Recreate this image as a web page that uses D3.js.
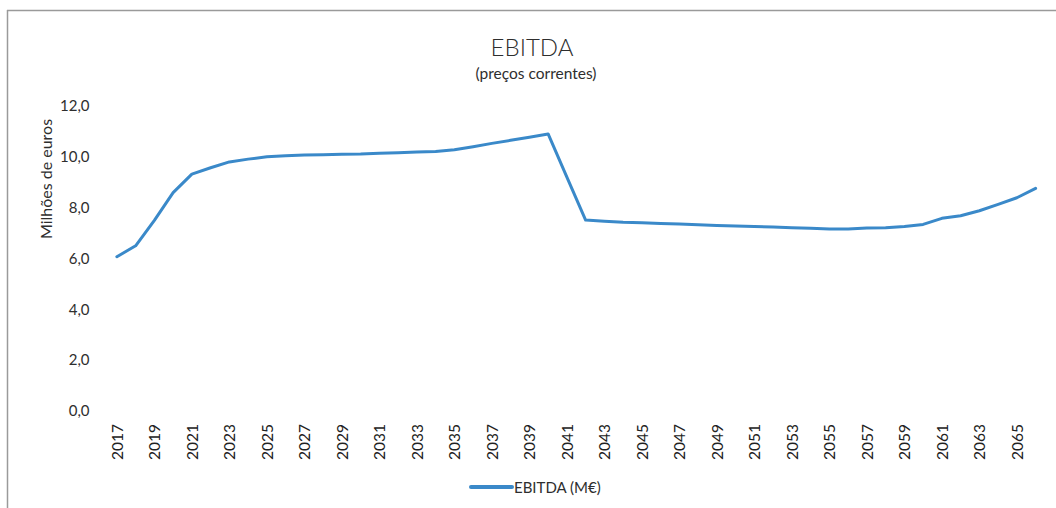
<!DOCTYPE html>
<html>
<head>
<meta charset="utf-8">
<script src="https://cdn.jsdelivr.net/npm/d3@7"></script>
<style>
  body { margin: 0; background: #fff; }
  svg { display: block; font-family: Lato, "Open Sans", sans-serif; }
</style>
</head>
<body>
<div id="chart"></div>
<script>
// EBITDA line chart (M€)
const years = d3.range(2017, 2067).map(String);
const ebitda = [
  6.07, 6.50, 7.50, 8.59, 9.32, 9.57, 9.80, 9.91, 10.00, 10.04,
  10.07, 10.08, 10.10, 10.11, 10.14, 10.16, 10.19, 10.21, 10.28, 10.40,
  10.53, 10.65, 10.77, 10.90, 9.20, 7.51, 7.47, 7.43, 7.41, 7.38,
  7.36, 7.33, 7.30, 7.28, 7.26, 7.24, 7.21, 7.19, 7.16, 7.16,
  7.20, 7.21, 7.26, 7.34, 7.58, 7.68, 7.88, 8.13, 8.39, 8.76
];
const yTicks = [0, 2, 4, 6, 8, 10, 12];
const title = 'EBITDA',
  subtitle = '(preços correntes)',
  yTitle = 'Milhões de euros',
  seriesName = 'EBITDA (M€)';

let W = 1056, H = 508,
  margin = {top: 106, right: 11, bottom: 97, left: 107.5},
  lineColor = '#3a89c9',
  textColor = '#2e2e2e';

let svg = d3.select('#chart').append('svg').attr('width', W).attr('height', H);

// frame (scan shows top and left edges only)
svg.append('line').attr('x1', 7).attr('x2', W).attr('y1', 10.5).attr('y2', 10.5)
  .style('stroke', '#9a9a9a').style('stroke-width', 1.5);
svg.append('line').attr('x1', 7.5).attr('x2', 7.5).attr('y1', 10).attr('y2', H)
  .style('stroke', '#9a9a9a').style('stroke-width', 1.5);

let scaleX = d3.scaleBand().domain(years).range([margin.left, W - margin.right]);
let scaleY = d3.scaleLinear().domain([0, 12]).range([H - margin.bottom, margin.top]);
let xPos = function(yr){ return scaleX(yr) + scaleX.bandwidth()/2; };
let fmt = function(v){ return d3.format('.1f')(v).replace('.', ','); };

// titles
svg.append('text').attr('x', 532).attr('y', 56).attr('text-anchor', 'middle')
  .style('font-size', '24px').style('font-weight', 300).style('fill', textColor).text(title);
svg.append('text').attr('x', 536).attr('y', 79).attr('text-anchor', 'middle')
  .style('font-size', '15.5px').style('fill', textColor).text(subtitle);

// y axis (no line, no ticks)
let yAxis = d3.axisLeft(scaleY).tickValues(yTicks).tickFormat(fmt).tickSize(0).tickPadding(0);
let gy = svg.append('g').attr('transform', 'translate(' + (margin.left - 18) + ',0)').call(yAxis);
gy.select('.domain').remove();
gy.selectAll('text').style('font-size', '15px').style('fill', textColor).style('font-family', 'Lato, sans-serif');

svg.append('text')
  .attr('transform', 'translate(45,179) rotate(-90)')
  .attr('text-anchor', 'middle').attr('dominant-baseline', 'central')
  .style('font-size', '16px').style('fill', textColor).text(yTitle);

// x axis labels every 2 years, rotated
let xAxis = d3.axisBottom(scaleX).tickValues(years.filter(function(d, i){ return i % 2 === 0; })).tickSize(0);
let gx = svg.append('g').attr('transform', 'translate(0,' + (H - margin.bottom) + ')').call(xAxis);
gx.select('.domain').remove();
gx.selectAll('text')
  .attr('transform', 'rotate(-90)')
  .attr('x', -13).attr('y', 0).attr('dy', null)
  .attr('text-anchor', 'end').attr('dominant-baseline', 'central')
  .style('font-size', '15.5px').style('fill', '#222').style('font-family', 'Lato, sans-serif');

// the line
let line = d3.line().x(function(d, i){ return xPos(years[i]); }).y(function(d){ return scaleY(d); });
svg.append('path').datum(ebitda).attr('d', line)
  .style('fill', 'none').style('stroke', lineColor).style('stroke-width', 3)
  .style('stroke-linejoin', 'round').style('stroke-linecap', 'round');

// legend
svg.append('line').attr('x1', 471).attr('x2', 512).attr('y1', 487).attr('y2', 487)
  .style('stroke', lineColor).style('stroke-width', 4).style('stroke-linecap', 'round');
svg.append('text').attr('x', 514).attr('y', 487).attr('dominant-baseline', 'central')
  .style('font-size', '15px').style('fill', textColor).text(seriesName);
</script>
</body>
</html>
